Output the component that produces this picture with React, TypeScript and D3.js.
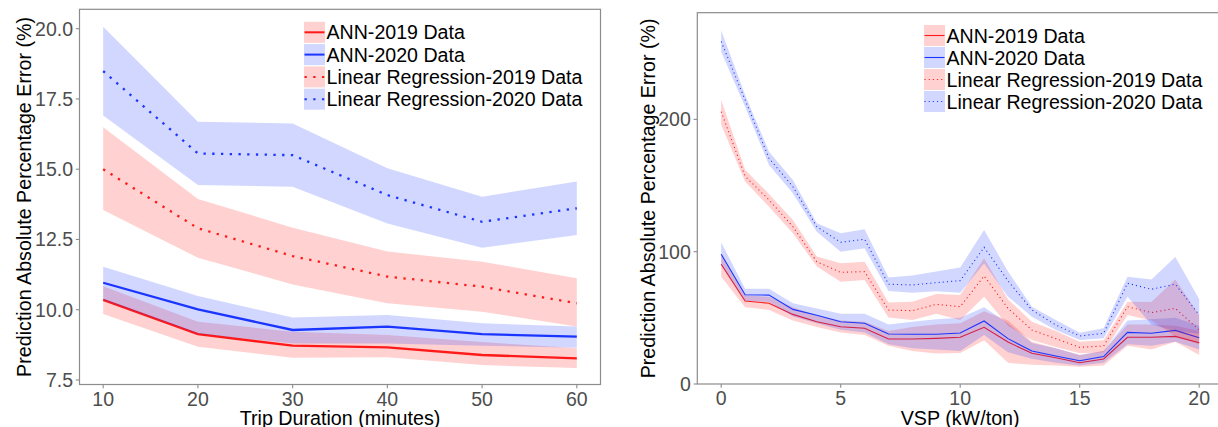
import React, { useRef, useEffect } from 'react';
import * as d3 from 'd3';

// ---- left panel: trip duration ----
const tripDuration = [10, 20, 30, 40, 50, 60];
const tripAnn2019 = [10.35, 9.13, 8.72, 8.66, 8.39, 8.27];
const tripAnn2019Lo = [9.85, 8.68, 8.29, 8.31, 8.03, 7.93];
const tripAnn2019Hi = [10.84, 9.57, 9.22, 9.1, 8.85, 8.63];
const tripAnn2020 = [10.96, 10.01, 9.28, 9.4, 9.13, 9.04];
const tripAnn2020Lo = [10.35, 9.15, 8.8, 8.8, 8.72, 8.65];
const tripAnn2020Hi = [11.53, 10.49, 9.72, 9.81, 9.52, 9.4];
const tripLr2019 = [15.0, 12.9, 11.91, 11.18, 10.82, 10.23];
const tripLr2019Lo = [13.55, 11.85, 10.9, 10.23, 9.93, 9.4];
const tripLr2019Hi = [16.49, 13.94, 12.92, 12.07, 11.71, 11.12];
const tripLr2020 = [18.49, 15.56, 15.5, 14.08, 13.13, 13.61];
const tripLr2020Lo = [16.91, 14.44, 14.38, 13.07, 12.21, 12.66];
const tripLr2020Hi = [20.07, 16.69, 16.63, 15.03, 14.02, 14.56];
const tripXTicks = [10, 20, 30, 40, 50, 60];
const tripYTicks = [7.5, 10, 12.5, 15, 17.5, 20];

// ---- right panel: VSP ----
const vsp = [0, 1, 2, 3, 4, 5, 6, 7, 8, 9, 10, 11, 12, 13, 14, 15, 16, 17, 18, 19, 20];
const vspAnn2019 = [90.5, 62.7, 61.0, 52.6, 47.1, 43.3, 42.1, 34.0, 34.0, 34.5, 35.3, 42.8, 31.7, 23.2, 19.9, 16.1, 18.9, 35.3, 35.3, 36.0, 31.2];
const vspAnn2019Lo = [81, 58, 56, 48, 43, 39, 37, 29, 25, 23, 23.5, 33, 16, 14.5, 14, 13, 14, 29, 26, 32, 22];
const vspAnn2019Hi = [99, 67, 66, 58, 52, 48, 47, 40, 43, 45, 46, 55, 48, 32, 27, 22, 25, 45, 45, 44, 40];
const vspAnn2020 = [98.0, 67.5, 67.2, 56.4, 51.9, 47.1, 45.9, 37.8, 37.6, 37.6, 38.5, 47.6, 34.3, 24.9, 21.2, 17.6, 20.7, 39.0, 38.3, 40.5, 35.0];
const vspAnn2020Lo = [90, 63, 62, 51, 46, 41, 39, 30, 27, 26, 25, 37, 24, 19, 16, 14, 16, 30, 29, 32, 26];
const vspAnn2020Hi = [107, 72, 72, 61, 57, 53, 53, 45, 47, 49, 50, 58, 46, 31, 27, 22, 25, 48, 49, 50, 44];
const vspLr2019 = [205.8, 157, 139.1, 118.9, 92.4, 84.4, 84.9, 55.9, 55.4, 60.2, 58.4, 81.6, 57.2, 40.8, 34.3, 27.7, 28.7, 58.4, 53.9, 57.2, 40.8];
const vspLr2019Lo = [196, 153, 134, 114, 88.8, 77.3, 78.6, 50.2, 48.4, 53, 48.4, 66, 44, 33.3, 28, 23.2, 24, 52.2, 48, 36, 30];
const vspLr2019Hi = [214.7, 162, 143.6, 124, 96.3, 91.2, 92.4, 61.5, 62.2, 68, 67.3, 95, 64, 47, 40, 32, 33, 62.2, 62, 79, 52];
const vspLr2020 = [258.8, 214.7, 170.6, 149.1, 118.9, 107.1, 109.4, 75.4, 74.8, 76.6, 78.1, 103.3, 78, 55.9, 44.6, 36.3, 38.3, 76.1, 71.6, 75.4, 52.2];
const vspLr2020Lo = [251, 209.6, 165.5, 144.1, 115.1, 100, 102.6, 70.3, 69, 70, 69, 91, 66, 50.9, 40.8, 33.3, 34.5, 66, 45, 40, 38];
const vspLr2020Hi = [267.1, 218.4, 175.6, 154.2, 121.4, 113.9, 116.9, 80.4, 82, 85, 88, 116.4, 85, 58.4, 48.4, 38.8, 42.1, 81.1, 79, 96, 64];
const vspXTicks = [0, 5, 10, 15, 20];
const vspYTicks = [0, 100, 200];

const seriesNames = ['ANN-2019 Data', 'ANN-2020 Data', 'Linear Regression-2019 Data', 'Linear Regression-2020 Data'];
const seriesColors = ['#ff1a1a', '#1a35ff', '#ff1a1a', '#1a35ff'];
const seriesDotted = [false, false, true, true];

const FONT = '"Liberation Sans", Arial, sans-serif';
const AXIS_GREY = '#8c8c8c';
const TEXT_GREY = '#4d4d4d';

type Band = { mid: number[]; lo: number[]; hi: number[] };

type PanelOpts = {
  x0: number; x1: number; y0: number; y1: number;
  xDomain: [number, number]; yDomain: [number, number];
  xs: number[]; bands: Band[];
  xTicks: number[]; yTicks: number[]; yFormat: (v: number) => string;
  xTitle: string; yTitle: string; yTitleX: number;
  lwd: number; legendX: number; legendY: number; legendStep: number;
};

function drawPanel(svg: any, o: PanelOpts) {
  const x = d3.scaleLinear().domain(o.xDomain).range([o.x0, o.x1]);
  const y = d3.scaleLinear().domain(o.yDomain).range([o.y1, o.y0]);
  const g = svg.append('g');
  const dash = `${o.lwd} ${o.lwd * 2.8}`;

  o.bands.forEach((b, i) => {
    const pts = o.xs.map((xv, k) => ({ x: xv, m: b.mid[k], lo: b.lo[k], hi: b.hi[k] }));
    const area = d3.area<any>().x(d => x(d.x)).y0(d => y(d.lo)).y1(d => y(d.hi));
    const line = d3.line<any>().x(d => x(d.x)).y(d => y(d.m));
    g.append('path').attr('d', area(pts)).attr('fill', seriesColors[i]).attr('fill-opacity', 0.2);
    g.append('path').attr('d', line(pts)).attr('fill', 'none')
      .attr('stroke', seriesColors[i]).attr('stroke-width', o.lwd)
      .attr('stroke-dasharray', seriesDotted[i] ? dash : null);
  });

  // panel border
  g.append('rect').attr('x', o.x0).attr('y', o.y0)
    .attr('width', o.x1 - o.x0).attr('height', o.y1 - o.y0)
    .attr('fill', 'none').attr('stroke', AXIS_GREY).attr('stroke-width', 1.2);

  // x axis ticks
  o.xTicks.forEach(t => {
    g.append('line').attr('x1', x(t)).attr('x2', x(t)).attr('y1', o.y1).attr('y2', o.y1 + 3.7)
      .attr('stroke', AXIS_GREY).attr('stroke-width', 1.1);
    g.append('text').attr('x', x(t)).attr('y', o.y1 + 21).attr('text-anchor', 'middle')
      .style('font-family', FONT).style('font-size', '19.5px').attr('fill', TEXT_GREY).text(String(t));
  });
  // y axis ticks
  o.yTicks.forEach(t => {
    g.append('line').attr('x1', o.x0 - 3.7).attr('x2', o.x0).attr('y1', y(t)).attr('y2', y(t))
      .attr('stroke', AXIS_GREY).attr('stroke-width', 1.1);
    g.append('text').attr('x', o.x0 - 6.5).attr('y', y(t)).attr('dy', '0.36em').attr('text-anchor', 'end')
      .style('font-family', FONT).style('font-size', '19.5px').attr('fill', TEXT_GREY).text(o.yFormat(t));
  });

  // axis titles
  g.append('text').attr('x', (o.x0 + Math.min(o.x1, 1223)) / 2).attr('y', 425).attr('text-anchor', 'middle')
    .style('font-family', FONT).style('font-size', '19.7px').attr('fill', '#000').text(o.xTitle);
  g.append('text').attr('transform', `translate(${o.yTitleX},${(o.y0 + o.y1) / 2}) rotate(-90)`)
    .attr('text-anchor', 'middle')
    .style('font-family', FONT).style('font-size', '19.7px').attr('fill', '#000').text(o.yTitle);

  // legend
  const key = 21;
  seriesNames.forEach((name, i) => {
    const ty = o.legendY + i * o.legendStep;
    g.append('rect').attr('x', o.legendX).attr('y', ty).attr('width', key).attr('height', key)
      .attr('fill', seriesColors[i]).attr('fill-opacity', 0.2);
    g.append('line').attr('x1', o.legendX + 0.5).attr('x2', o.legendX + key - 0.5)
      .attr('y1', ty + key / 2).attr('y2', ty + key / 2)
      .attr('stroke', seriesColors[i]).attr('stroke-width', Math.min(o.lwd, 2))
      .attr('stroke-dasharray', seriesDotted[i] ? dash : null);
    g.append('text').attr('x', o.legendX + key + 1.5).attr('y', ty + key / 2).attr('dy', '0.36em')
      .style('font-family', FONT).style('font-size', '19.6px').attr('fill', '#000').text(name);
  });
}

export default function App() {
  const svgRef = useRef<SVGSVGElement>(null);

  useEffect(() => {
    const svg = d3.select(svgRef.current);

    drawPanel(svg, {
      x0: 79.5, x1: 600.5, y0: 9.3, y1: 384.5,
      xDomain: [7.5, 62.5], yDomain: [7.34, 20.69],
      xs: tripDuration,
      bands: [
        { mid: tripAnn2019, lo: tripAnn2019Lo, hi: tripAnn2019Hi },
        { mid: tripAnn2020, lo: tripAnn2020Lo, hi: tripAnn2020Hi },
        { mid: tripLr2019, lo: tripLr2019Lo, hi: tripLr2019Hi },
        { mid: tripLr2020, lo: tripLr2020Lo, hi: tripLr2020Hi },
      ],
      xTicks: tripXTicks, yTicks: tripYTicks, yFormat: d3.format('.1f'),
      xTitle: 'Trip Duration (minutes)', yTitle: 'Prediction Absolute Percentage Error (%)', yTitleX: 31,
      lwd: 2.3, legendX: 304, legendY: 21.8, legendStep: 22.3,
    });

    drawPanel(svg, {
      x0: 697.3, x1: 1223.1, y0: 12.7, y1: 384,
      xDomain: [-1, 21], yDomain: [0, 280.6],
      xs: vsp,
      bands: [
        { mid: vspAnn2019, lo: vspAnn2019Lo, hi: vspAnn2019Hi },
        { mid: vspAnn2020, lo: vspAnn2020Lo, hi: vspAnn2020Hi },
        { mid: vspLr2019, lo: vspLr2019Lo, hi: vspLr2019Hi },
        { mid: vspLr2020, lo: vspLr2020Lo, hi: vspLr2020Hi },
      ],
      xTicks: vspXTicks, yTicks: vspYTicks, yFormat: d3.format('d'),
      xTitle: 'VSP (kW/ton)', yTitle: 'Prediction Absolute Percentage Error (%)', yTitleX: 655,
      lwd: 1.1, legendX: 924, legendY: 25, legendStep: 22,
    });

    return () => {
      svg.selectAll('*').remove();
    };
  }, []);

  return (
    <svg ref={svgRef} width={1218} height={427}
      style={{ position: 'absolute', left: 0, top: 0, background: '#fff' }} />
  );
}
